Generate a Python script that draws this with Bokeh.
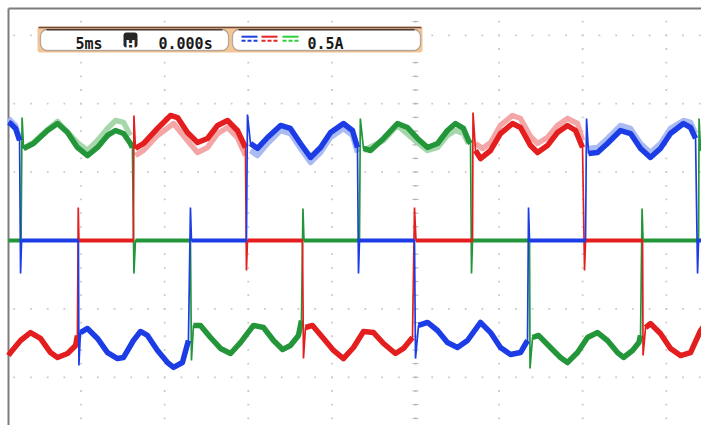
import numpy as np
from bokeh.plotting import figure
from bokeh.models import Range1d, BoxAnnotation, Label
from bokeh.embed import file_html
from bokeh.resources import INLINE

nan = float("nan")

# ---------------- data: time in ms (trigger at 0), current in A ----------------
# Blue phase: trace points (pulses and zero-level stretches) and switching spike tips
blue_t = [-24.34, -24.22, -23.92, -23.68,
          -23.56, -20.16,
          -20.04, -19.62, -19.02, -18.42, -17.82, -17.46, -16.87, -16.45, -16.03, -15.43, -14.83, -14.47, -13.94, -13.58,
          -13.40, -10.11,
          -9.87, -9.45, -8.85, -8.07, -7.48, -6.88, -6.28, -5.68, -5.08, -4.31, -3.77, -3.47,
          -3.35, -0.06,
          0.18, 0.72, 1.32, 1.91, 2.51, 3.11, 3.89, 4.49, 5.08, 5.68, 6.28, 6.70,
          6.82, 10.17,
          10.35, 10.89, 11.48, 12.26, 12.86, 13.46, 14.05, 14.65, 15.25, 16.03, 16.45, 16.75,
          16.93, 17.40]
blue_i = [0.863, 0.855, 0.819, 0.731,
          0.0, 0.0,
          -0.673, -0.643, -0.716, -0.819, -0.863, -0.855, -0.731, -0.665, -0.694, -0.804, -0.892, -0.928, -0.892, -0.731,
          0.0, 0.0,
          0.709, 0.673, 0.753, 0.841, 0.819, 0.709, 0.607, 0.680, 0.789, 0.855, 0.804, 0.680,
          0.0, 0.0,
          -0.621, -0.599, -0.658, -0.746, -0.782, -0.731, -0.599, -0.673, -0.782, -0.833, -0.819, -0.731,
          0.0, 0.0,
          0.636, 0.643, 0.709, 0.804, 0.782, 0.673, 0.607, 0.673, 0.782, 0.855, 0.826, 0.746,
          0.0, 0.0]
blue_spike_t = [-23.62, -20.13, -13.46, -10.05, -3.41, 0.00, 6.76, 10.23, 16.87]
blue_spike_i = [-0.241, -0.914, 0.241, 0.921, -0.241, -0.863, 0.241, 0.892, -0.241]
blue_ghost_t = [-24.34, -23.92, -23.68, nan,
                -9.87, -9.45, -8.85, -8.07, -7.48, -6.88, -6.28, -5.68, -5.08, -4.31, -3.77, -3.47, nan,
                10.35, 10.89, 11.48, 12.26, 12.86, 13.46, 14.05, 14.65, 15.25, 16.03, 16.45, 16.75]
blue_ghost_i = [0.892, 0.841, 0.745, nan,
                0.658, 0.621, 0.709, 0.804, 0.782, 0.673, 0.570, 0.643, 0.753, 0.819, 0.768, 0.643, nan,
                0.673, 0.680, 0.746, 0.841, 0.819, 0.709, 0.643, 0.709, 0.819, 0.877, 0.863, 0.782]

# Red phase
red_t = [-24.34, -24.22, -23.62, -23.03, -22.43, -21.83, -21.41, -20.81, -20.33, -20.22,
         -20.13, -16.87,
         -16.75, -16.27, -15.43, -14.65, -14.23, -13.64, -13.04, -12.44, -11.84, -11.24, -10.65, -10.17,
         -10.05, -6.76,
         -6.58, -6.16, -5.50, -4.90, -4.31, -3.71, -3.11, -2.51, -1.91, -1.20, -0.72, -0.18,
         0.03, 3.41,
         3.59, 3.89, 4.49, 5.08, 5.80, 6.28, 6.88, 7.30, 7.89, 8.49, 9.09, 9.57, 9.99,
         10.17, 13.58,
         13.76, 14.05, 14.65, 15.25, 15.85, 16.45, 17.05, 17.40]
red_i = [-0.841, -0.819, -0.731, -0.673, -0.716, -0.819, -0.855, -0.826, -0.768, -0.694,
         0.0, 0.0,
         0.673, 0.709, 0.819, 0.914, 0.899, 0.789, 0.716, 0.746, 0.841, 0.877, 0.804, 0.680,
         0.0, 0.0,
         -0.636, -0.621, -0.716, -0.804, -0.863, -0.782, -0.665, -0.673, -0.753, -0.826, -0.789, -0.709,
         0.0, 0.0,
         0.658, 0.599, 0.658, 0.782, 0.855, 0.826, 0.694, 0.643, 0.694, 0.789, 0.841, 0.804, 0.680,
         0.0, 0.0,
         -0.636, -0.607, -0.680, -0.789, -0.841, -0.819, -0.658, -0.600]
red_spike_t = [-20.17, -16.84, -10.11, -6.70, -0.06, 3.44, 10.11, 13.61]
red_spike_i = [0.241, 0.914, -0.219, -0.863, 0.241, 0.936, -0.219, -0.841]
red_ghost_t = [-16.75, -16.27, -15.43, -14.47, -13.64, -13.04, -12.44, -11.84, -11.24, -10.65, -10.17, nan,
               3.59, 4.01, 4.49, 5.08, 5.80, 6.28, 6.88, 7.30, 7.89, 8.49, 9.09, 9.69, 9.99]
red_ghost_i = [0.621, 0.658, 0.768, 0.855, 0.731, 0.643, 0.680, 0.782, 0.826, 0.753, 0.621, nan,
               0.709, 0.673, 0.716, 0.841, 0.914, 0.892, 0.760, 0.709, 0.753, 0.841, 0.892, 0.855, 0.731]

# Green phase
green_t = [-24.34, -23.59,
           -23.44, -22.85, -22.01, -21.41, -20.81, -20.22, -19.62, -19.02, -18.42, -17.94, -17.46, -17.05, -16.93,
           -16.75, -13.46,
           -13.28, -12.86, -12.26, -11.66, -11.06, -10.47, -9.69, -9.09, -8.49, -7.95, -7.48, -7.00, -6.82,
           -6.67, -3.35,
           -3.11, -2.69, -1.91, -1.08, -0.48, 0.12, 0.72, 1.32, 1.91, 2.39, 2.87, 3.17, 3.29,
           3.41, 6.82,
           7.00, 7.36, 8.07, 8.67, 9.09, 9.69, 10.29, 10.89, 11.48, 12.08, 12.44, 12.98, 13.36, 13.46,
           13.61, 16.93,
           17.05, 17.40]
green_i = [0.0, 0.0,
           0.673, 0.709, 0.804, 0.855, 0.789, 0.680, 0.621, 0.680, 0.768, 0.804, 0.782, 0.709, 0.680,
           0.0, 0.0,
           -0.621, -0.621, -0.709, -0.789, -0.826, -0.746, -0.621, -0.636, -0.731, -0.797, -0.768, -0.694, -0.585,
           0.0, 0.0,
           0.673, 0.658, 0.746, 0.855, 0.826, 0.746, 0.680, 0.709, 0.804, 0.855, 0.819, 0.731, 0.709,
           0.0, 0.0,
           -0.709, -0.694, -0.782, -0.855, -0.892, -0.819, -0.709, -0.673, -0.731, -0.819, -0.855, -0.804, -0.746, -0.694,
           0.0, 0.0,
           0.658, 0.673]
green_spike_t = [-23.53, -16.84, -13.40, -6.73, -3.30, 3.35, 6.85, 13.55, 16.96]
green_spike_i = [0.899, -0.241, -0.877, 0.234, 0.892, -0.241, -0.936, 0.234, 0.892]
green_ghost_t = [-23.44, -22.85, -22.01, -21.41, -20.22, -19.62, -19.02, -18.42, -17.94, -17.46, -17.05, nan,
                 -3.11, -1.91, -1.08, 0.12, 0.72, 1.32, 1.91, 2.39, 2.87, 3.17]
green_ghost_i = [0.673, 0.716, 0.811, 0.870, 0.716, 0.658, 0.731, 0.819, 0.877, 0.863, 0.768, nan,
                 0.658, 0.731, 0.841, 0.716, 0.658, 0.680, 0.768, 0.804, 0.782, 0.709]

# Readout texts
timebase_text = "5ms"
trigger_text = "0.000s"
scale_text = "0.5A"
ms_per_div = 5
amps_per_div = 0.5

# ---------------- screen geometry ----------------
PX_PER_DIV_X = 83.6
PX_PER_DIV_Y = 68.4
X_ZERO_PX = 415
Y_ZERO_PX = 240


def tx(px):
    return (px - X_ZERO_PX) / PX_PER_DIV_X * ms_per_div


def iy(py):
    return (Y_ZERO_PX - py) / PX_PER_DIV_Y * amps_per_div


p = figure(width=701, height=425,
           x_range=Range1d(tx(0), tx(701)), y_range=Range1d(iy(425), iy(0)),
           x_axis_type=None, y_axis_type=None,
           toolbar_location=None, output_backend="svg",
           min_border=0, outline_line_color=None,
           background_fill_color="white", border_fill_color="white")

# dotted graticule
rows = np.arange(-2, 4) * amps_per_div
minor_t = np.arange(-24, 18, 1.0)
p.scatter(np.tile(minor_t, len(rows)), np.repeat(rows, len(minor_t)),
          marker="square", size=1.8, fill_color="#cacaca", line_color=None)
cols = np.arange(-4, 4) * ms_per_div
minor_i = np.arange(-13, 17) * 0.1
p.scatter(np.tile(cols, len(minor_i)), np.repeat(minor_i, len(cols)),
          marker="square", size=1.8, fill_color="#cacaca", line_color=None)
p.scatter(np.zeros(len(minor_i)), minor_i, marker="dash", size=6,
          line_color="#b4b4b4", line_width=1)

# screen border (top and left)
p.line([tx(8), tx(8)], [iy(8), iy(425)], line_color="#7c7c7c", line_width=2)
p.line([tx(8), tx(701)], [iy(8), iy(8)], line_color="#7c7c7c", line_width=2)


def pieces(t, i):
    out, seg = [], [(t[0], i[0])]
    for k in range(1, len(t)):
        if (t[k] - t[k - 1]) < 0.35 and abs(i[k] - i[k - 1]) > 0.2:
            out.append(seg)
            seg = []
        seg.append((t[k], i[k]))
    out.append(seg)
    return out


phases = [
    (green_t, green_i, green_spike_t, green_spike_i, green_ghost_t, green_ghost_i, "#23963a", "#a6d7ab"),
    (red_t, red_i, red_spike_t, red_spike_i, red_ghost_t, red_ghost_i, "#e41e1e", "#f4a6a6"),
    (blue_t, blue_i, blue_spike_t, blue_spike_i, blue_ghost_t, blue_ghost_i, "#1c3de6", "#aabaf3"),
]

for t, i, st, si, gt, gi, col, gcol in phases:
    p.line(gt, gi, line_color=gcol, line_width=5.5, line_join="round")

for t, i, st, si, gt, gi, col, gcol in phases:
    pts = sorted(list(zip(t, i)) + list(zip(st, si)), key=lambda q: q[0])
    p.line([q[0] for q in pts], [q[1] for q in pts], line_color=col, line_width=1.7)
    px_, py_, zx, zy = [], [], [], []
    for seg in pieces(t, i):
        xs = [q[0] for q in seg]
        ys = [q[1] for q in seg]
        if max(abs(v) for v in ys) < 0.05:
            zx.append(xs); zy.append(ys)
        else:
            px_.append(xs); py_.append(ys)
    p.multi_line(px_, py_, line_color=col, line_width=5.5, line_join="round")
    p.multi_line(zx, zy, line_color=col, line_width=4)

# ---------------- readout header ----------------
p.add_layout(BoxAnnotation(left=tx(37), right=tx(422), top=iy(26), bottom=iy(52),
                           fill_color="#f3c69a", fill_alpha=1, line_color=None, border_radius=3))
for l, r in [(40, 228), (232, 420)]:
    p.add_layout(BoxAnnotation(left=tx(l), right=tx(r), top=iy(29), bottom=iy(50),
                               fill_color="white", fill_alpha=1, line_color="#1e1e1e",
                               line_width=1.3, border_radius=7))
p.line([tx(38), tx(421)], [iy(27), iy(27)], line_color="#6e4b3a", line_width=1.5, level="overlay")
p.line([tx(46), tx(222)], [iy(29.3), iy(29.3)], line_color="#4a3a30", line_width=1.5, level="overlay")
p.line([tx(238), tx(414)], [iy(29.3), iy(29.3)], line_color="#4a3a30", line_width=1.5, level="overlay")

p.add_layout(BoxAnnotation(left=tx(123), right=tx(137), top=iy(32), bottom=iy(47),
                           fill_color="#262626", fill_alpha=1, line_color=None, border_radius=3))

font = "DejaVu Sans Mono"
p.add_layout(Label(x=tx(75), y=iy(43), text=timebase_text, text_align="left",
                   text_baseline="alphabetic", text_font=font, text_font_size="15px",
                   text_font_style="bold", text_color="#1a1a1a"))
p.add_layout(Label(x=tx(130), y=iy(44), text="H", text_align="center",
                   text_baseline="alphabetic", text_font="DejaVu Sans", text_font_size="12px",
                   text_font_style="bold", text_color="white"))
p.add_layout(Label(x=tx(158), y=iy(43), text=trigger_text, text_align="left",
                   text_baseline="alphabetic", text_font=font, text_font_size="15px",
                   text_font_style="bold", text_color="#1a1a1a"))
p.add_layout(Label(x=tx(307), y=iy(43), text=scale_text, text_align="left",
                   text_baseline="alphabetic", text_font=font, text_font_size="15px",
                   text_font_style="bold", text_color="#1a1a1a"))

for x0, col in [(241, "#1f3fe0"), (261, "#e52424"), (282, "#2fcf3a")]:
    p.line([tx(x0), tx(x0 + 16)], [iy(36.2), iy(36.2)], line_color=col, line_width=2, level="overlay")
    p.line([tx(x0), tx(x0 + 16)], [iy(40.3), iy(40.3)], line_color=col, line_width=2,
           line_dash="4 2", level="overlay")

open("out.html", "w").write(file_html(p, INLINE))
